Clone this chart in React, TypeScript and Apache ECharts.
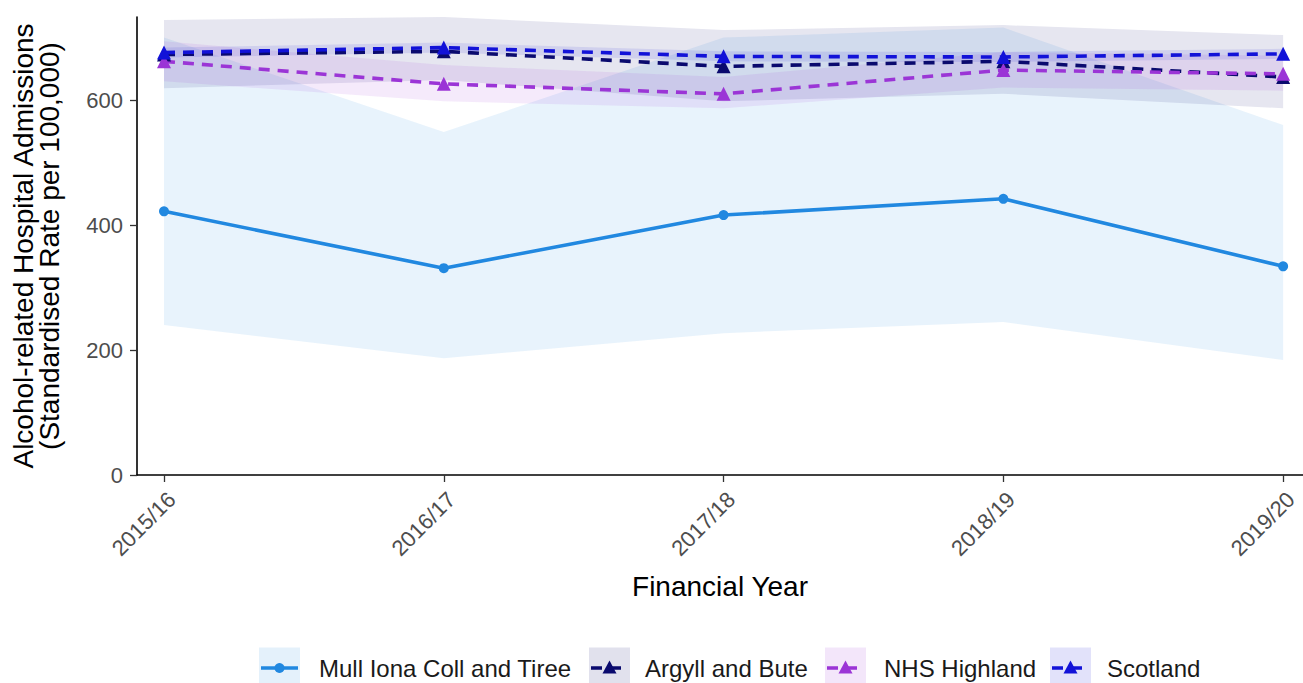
import React, { useEffect, useRef } from "react";
import * as echarts from "echarts";

const years = ["2015/16", "2016/17", "2017/18", "2018/19", "2019/20"];

const mullRate = [422, 331, 416, 442, 334];
const mullLower = [240, 187, 227, 245, 184];
const mullUpper = [700, 549, 700, 716, 560];

const argyllRate = [673, 678, 654, 662, 637];
const argyllLower = [619, 632, 598, 610, 587];
const argyllUpper = [728, 733, 712, 720, 704];

const highlandRate = [662, 626, 610, 648, 642];
const highlandLower = [630, 598, 587, 620, 615];
const highlandUpper = [694, 656, 637, 677, 671];

const scotlandRate = [676, 684, 670, 669, 674];
const scotlandLower = [668, 676, 662, 661, 666];
const scotlandUpper = [684, 692, 678, 677, 682];

const yTicks = [0, 200, 400, 600];

const seriesNames = ["Mull Iona Coll and Tiree", "Argyll and Bute", "NHS Highland", "Scotland"];
const colors = ["#2188e0", "#0a0a6e", "#9b35d6", "#1212d8"];

const FONT = "Liberation Sans, Arial, sans-serif";

function rgba(hex: string, a: number) {
  const r = parseInt(hex.slice(1, 3), 16);
  const g = parseInt(hex.slice(3, 5), 16);
  const b = parseInt(hex.slice(5, 7), 16);
  return `rgba(${r},${g},${b},${a})`;
}

function bandSeries(name: string, lower: number[], upper: number[], color: string, alpha: number) {
  return {
    type: "custom",
    name: name + " CI",
    silent: true,
    z: 1,
    data: lower.map((l, i) => [i, l, upper[i]]),
    encode: { x: 0, y: [1, 2] },
    renderItem: (params: any, api: any) => {
      if (params.dataIndex !== 0) return null;
      const top = upper.map((u, i) => api.coord([i, u]));
      const bot = lower.map((l, i) => api.coord([i, l])).reverse();
      return {
        type: "polygon",
        shape: { points: top.concat(bot) },
        style: { fill: rgba(color, alpha) },
      };
    },
  };
}

function lineSeries(name: string, values: number[], color: string, dashed: boolean, symbol: string, symbolSize: number) {
  return {
    type: "line",
    name,
    z: 5,
    data: values.map((v, i) => [i, v]),
    symbol,
    symbolSize,
    itemStyle: { color },
    lineStyle: { color, width: 3.6, type: dashed ? [11, 8] : "solid" },
  };
}

function legendGraphics() {
  const keys = [
    { box: 259, text: 319 },
    { box: 589, text: 645 },
    { box: 825, text: 884 },
    { box: 1050, text: 1107 },
  ];
  const cy = 668;
  const size = 41;
  const out: any[] = [];
  keys.forEach((k, i) => {
    const c = colors[i];
    out.push({
      type: "rect",
      shape: { x: k.box, y: cy - size / 2, width: size, height: size },
      style: { fill: rgba(c, 0.12) },
      silent: true,
    });
    out.push({
      type: "line",
      shape: { x1: k.box + 2, y1: cy, x2: k.box + size - 2, y2: cy },
      style: { stroke: c, lineWidth: 3.6, lineDash: i === 0 ? null : [11, 8] },
      silent: true,
    });
    const mx = k.box + size / 2;
    if (i === 0) {
      out.push({ type: "circle", shape: { cx: mx, cy, r: 5 }, style: { fill: c }, silent: true });
    } else {
      out.push({
        type: "polygon",
        shape: { points: [[mx, cy - 7.5], [mx - 7, cy + 5.5], [mx + 7, cy + 5.5]] },
        style: { fill: c },
        silent: true,
      });
    }
    out.push({
      type: "text",
      x: k.text,
      y: cy,
      style: {
        text: seriesNames[i],
        fill: "#1a1a1a",
        font: `24px ${FONT}`,
        verticalAlign: "middle",
        align: "left",
      },
      silent: true,
    });
  });
  return out;
}

export default function App() {
  const ref = useRef<HTMLDivElement>(null);
  useEffect(() => {
    if (!ref.current) return;
    const chart = echarts.init(ref.current, undefined, { renderer: "svg" });
    const option: any = {
      animation: false,
      backgroundColor: "#ffffff",
      textStyle: { fontFamily: FONT },
      grid: { left: 137, right: 0, top: 17, bottom: 208, containLabel: false },
      xAxis: {
        type: "value",
        min: -0.0965,
        max: 4.071,
        name: "Financial Year",
        nameLocation: "middle",
        nameGap: 97,
        nameTextStyle: { fontSize: 28, color: "#000000", fontFamily: FONT },
        axisLine: { show: true, onZero: false, lineStyle: { color: "#000000", width: 1.6 } },
        axisTick: { show: true, length: 7, lineStyle: { color: "#333333", width: 1.3 }, customValues: [0, 1, 2, 3, 4] },
        axisLabel: {
          customValues: [0, 1, 2, 3, 4],
          formatter: (v: number) => years[Math.round(v)] ?? "",
          rotate: 45,
          margin: 13,
          align: "right",
          verticalAlign: "top",
          fontSize: 22,
          color: "#4d4d4d",
          fontFamily: FONT,
        },
        splitLine: { show: false },
      },
      yAxis: {
        type: "value",
        min: 0,
        max: 733,
        name: "Alcohol-related Hospital Admissions\n(Standardised Rate per 100,000)",
        nameLocation: "middle",
        nameRotate: 90,
        nameGap: 75,
        nameTextStyle: { fontSize: 28, lineHeight: 26, color: "#000000", fontFamily: FONT },
        axisLine: { show: true, onZero: false, lineStyle: { color: "#000000", width: 1.6 } },
        axisTick: { show: true, length: 7, lineStyle: { color: "#333333", width: 1.3 }, customValues: yTicks },
        axisLabel: {
          customValues: yTicks,
          margin: 14,
          fontSize: 22,
          color: "#4d4d4d",
          fontFamily: FONT,
        },
        splitLine: { show: false },
      },
      series: [
        bandSeries(seriesNames[0], mullLower, mullUpper, colors[0], 0.1),
        bandSeries(seriesNames[1], argyllLower, argyllUpper, colors[1], 0.1),
        bandSeries(seriesNames[2], highlandLower, highlandUpper, colors[2], 0.1),
        bandSeries(seriesNames[3], scotlandLower, scotlandUpper, colors[3], 0.1),
        lineSeries(seriesNames[0], mullRate, colors[0], false, "circle", 10),
        lineSeries(seriesNames[1], argyllRate, colors[1], true, "triangle", 14),
        lineSeries(seriesNames[2], highlandRate, colors[2], true, "triangle", 14),
        lineSeries(seriesNames[3], scotlandRate, colors[3], true, "triangle", 14),
      ],
      graphic: legendGraphics(),
    };
    chart.setOption(option);
    return () => chart.dispose();
  }, []);
  return (
    <div
      ref={ref}
      style={{ position: "fixed", left: 0, top: 0, width: 1303, height: 683, background: "#fff" }}
    />
  );
}
